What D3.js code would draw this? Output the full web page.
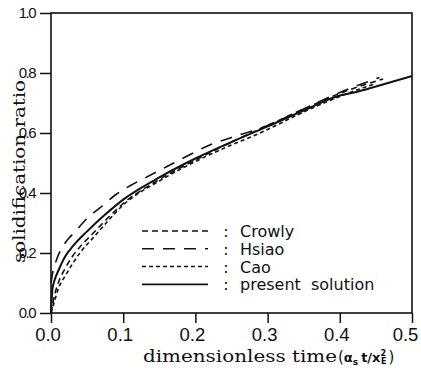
<!DOCTYPE html>
<html>
<head>
<meta charset="utf-8">
<script src="https://cdn.jsdelivr.net/npm/d3@7"></script>
<style>
  body { margin: 0; background: #fff; }
  svg { display: block; }
</style>
</head>
<body>
<div id="chart"></div>
<script>
// values
const presentT = [0, 0.002, 0.005, 0.01, 0.02, 0.03, 0.05, 0.075, 0.1, 0.15, 0.2, 0.25, 0.3, 0.35, 0.4, 0.42, 0.45, 0.5];
const presentS = [0, 0.08, 0.11, 0.14, 0.19, 0.222, 0.272, 0.328, 0.378, 0.452, 0.515, 0.57, 0.622, 0.675, 0.725, 0.735, 0.755, 0.79];

const hsiaoT = [0, 0.002, 0.008, 0.02, 0.033, 0.05, 0.07, 0.09, 0.11, 0.13, 0.15, 0.17, 0.19, 0.22, 0.25, 0.3, 0.35, 0.4, 0.455];
const hsiaoS = [0.1, 0.13, 0.18, 0.235, 0.27, 0.315, 0.355, 0.395, 0.425, 0.45, 0.475, 0.5, 0.525, 0.56, 0.585, 0.625, 0.68, 0.735, 0.785];

const crowlyT = [0, 0.005, 0.01, 0.02, 0.03, 0.04, 0.06, 0.08, 0.1, 0.15, 0.2, 0.25, 0.3, 0.35, 0.4, 0.46];
const crowlyS = [0, 0.06, 0.1, 0.15, 0.19, 0.22, 0.27, 0.32, 0.365, 0.445, 0.51, 0.57, 0.625, 0.68, 0.732, 0.78];

const caoT = [0, 0.005, 0.01, 0.02, 0.03, 0.04, 0.06, 0.08, 0.1, 0.15, 0.2, 0.25, 0.28, 0.3, 0.35, 0.4, 0.45];
const caoS = [0, 0.04, 0.08, 0.125, 0.165, 0.2, 0.255, 0.31, 0.36, 0.44, 0.505, 0.56, 0.59, 0.612, 0.67, 0.722, 0.765];

const xTicks = [0, 0.1, 0.2, 0.3, 0.4, 0.5];
const yTicks = [0, 0.2, 0.4, 0.6, 0.8, 1.0];

const legendNames = ['Crowly', 'Hsiao', 'Cao', 'present  solution'];
const legendDash = ['6 4', '12 9', '4 3', null];

const width = 421;
const height = 374;
const margin = {top: 13, right: 9, bottom: 61, left: 51};

const svg = d3.select('#chart')
    .append('svg')
        .attr('width', width)
        .attr('height', height);

const x = d3.scaleLinear()
    .domain([0, 0.5])
    .range([margin.left, width - margin.right]);
const y = d3.scaleLinear()
    .domain([0, 1])
    .range([height - margin.bottom, margin.top]);

// x axis
const xAxis = svg.append('g')
    .attr('transform', `translate(0, ${y(0)})`)
    .call(d3.axisBottom(x).tickValues(xTicks).tickFormat(d3.format('.1f')).tickSize(10).tickPadding(5));
xAxis.select('.domain').remove();
xAxis.selectAll('line').attr('stroke', '#111').attr('stroke-width', 1.5);
xAxis.selectAll('text')
    .attr('dx', (d, i) => i === xTicks.length - 1 ? -7 : -3.5)
    .style('font-family', '"Liberation Sans", Arial, sans-serif')
    .style('font-size', '18.5px')
    .attr('fill', '#111');

// y axis
const yAxis = svg.append('g')
    .attr('transform', `translate(${x(0)}, 0)`)
    .call(d3.axisLeft(y).tickValues(yTicks).tickFormat(d3.format('.1f')).tickSize(11).tickPadding(5));
yAxis.select('.domain').remove();
yAxis.selectAll('line').attr('stroke', '#111').attr('stroke-width', 1.5);
yAxis.selectAll('text')
    .style('font-family', '"Liberation Sans", Arial, sans-serif')
    .style('font-size', '15px')
    .style('letter-spacing', '-1.5px')
    .attr('fill', '#111');

// frame
svg.append('rect')
    .attr('x', x(0))
    .attr('y', y(1))
    .attr('width', x(0.5) - x(0))
    .attr('height', y(0) - y(1))
    .attr('fill', 'none')
    .attr('stroke', '#111')
    .attr('stroke-width', 1.6);

// curves
const series = [
    {t: crowlyT, s: crowlyS, dash: legendDash[0]},
    {t: hsiaoT, s: hsiaoS, dash: legendDash[1]},
    {t: caoT, s: caoS, dash: legendDash[2]},
    {t: presentT, s: presentS, dash: legendDash[3]}
];
const line = d3.line()
    .x(d => x(d[0]))
    .y(d => y(d[1]))
    .curve(d3.curveMonotoneX);

svg.append('g')
    .attr('class', 'curves')
    .attr('fill', 'none')
    .attr('stroke', '#111')
    .selectAll('path')
    .data(series)
    .join('path')
        .attr('d', d => line(d.t.map((t, i) => [t, d.s[i]])))
        .attr('stroke-width', d => d.dash ? 1.6 : 2)
        .attr('stroke-dasharray', d => d.dash);

// legend
const legend = svg.append('g')
    .attr('class', 'legend')
    .selectAll('g')
    .data(legendNames)
    .join('g')
        .attr('transform', (d, i) => `translate(142, ${231 + i * 17.8})`);
legend.append('line')
    .attr('x1', 0)
    .attr('x2', 66)
    .attr('stroke', '#111')
    .attr('stroke-width', (d, i) => legendDash[i] ? 1.5 : 1.8)
    .attr('stroke-dasharray', (d, i) => legendDash[i]);
legend.append('text')
    .attr('x', 84)
    .attr('y', 6)
    .attr('text-anchor', 'middle')
    .style('font-family', '"DejaVu Sans", sans-serif')
    .style('font-size', '16px')
    .attr('fill', '#111')
    .text(':');
legend.append('text')
    .attr('x', 98)
    .attr('y', 6)
    .style('font-family', '"DejaVu Sans", sans-serif')
    .style('font-size', '16px')
    .style('white-space', 'pre')
    .attr('fill', '#111')
    .text(d => d);

// axis titles
const xTitle = svg.append('text')
    .attr('x', 143)
    .attr('y', 362)
    .style('font-family', '"DejaVu Serif", serif')
    .style('font-size', '17px')
    .attr('fill', '#111');
xTitle.append('tspan')
    .attr('textLength', 194)
    .attr('lengthAdjust', 'spacingAndGlyphs')
    .text('dimensionless time');
const unit = xTitle.append('tspan')
    .style('font-family', '"DejaVu Sans", sans-serif')
    .style('font-size', '13px');
unit.append('tspan').attr('dx', 1).style('font-size', '15px').text('(');
unit.append('tspan').style('font-weight', 'bold').text('α');
unit.append('tspan').attr('dy', 3).style('font-size', '9px').style('font-weight', 'bold').text('s');
unit.append('tspan').attr('dy', -3).attr('dx', 3).style('font-weight', 'bold').text('t/x');
unit.append('tspan').attr('dy', -6).attr('dx', 0).style('font-size', '8px').style('font-weight', 'bold').text('2');
unit.append('tspan').attr('dy', 8).attr('dx', -5).style('font-size', '8px').style('font-weight', 'bold').text('E');
unit.append('tspan').attr('dy', -2).attr('dx', 2).style('font-size', '15px').text(')');

svg.append('text')
    .attr('transform', 'translate(25, 263) rotate(-90)')
    .attr('textLength', 183)
    .attr('lengthAdjust', 'spacingAndGlyphs')
    .style('font-family', '"DejaVu Serif", serif')
    .style('font-size', '17px')
    .attr('fill', '#111')
    .text('solidification ratio');
</script>
</body>
</html>
